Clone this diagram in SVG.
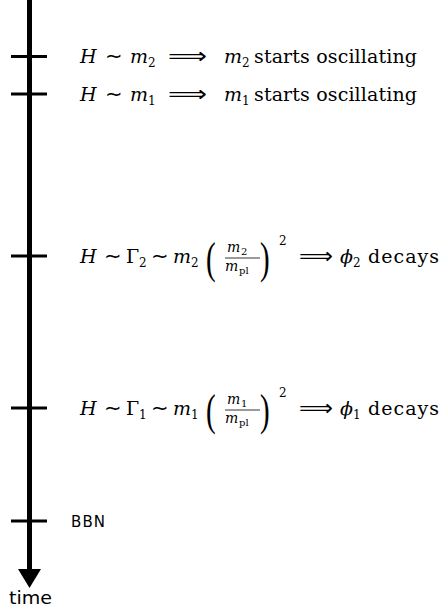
<svg xmlns="http://www.w3.org/2000/svg" width="442" height="612" viewBox="0 0 442 612">
<style>
.m{font-family:"DejaVu Serif","Liberation Serif",serif;font-size:19px;fill:#000}
.i{font-style:italic}
.s{font-size:12px}
.f{font-size:14px}
.sym{font-family:"DejaVu Sans","Liberation Sans",sans-serif;font-size:21px;fill:#000}
.par{font-family:"Liberation Serif",serif;font-size:29px;fill:#000}
.lab{font-family:"DejaVu Sans","Liberation Sans",sans-serif;font-size:15px;fill:#000}
.tick{stroke:#000;stroke-width:3.2}
</style>
<g id="axis">
<line x1="29.5" y1="0" x2="29.5" y2="572" stroke="#000" stroke-width="5"/>
<polygon points="18,569 41,569 29.5,588" fill="#000"/>
<text class="lab" x="9" y="604" textLength="43" lengthAdjust="spacingAndGlyphs" style="font-size:17px">time</text>
</g>
<g id="ticks">
<line class="tick" x1="11" y1="56.5" x2="47" y2="56.5"/>
<line class="tick" x1="11" y1="94" x2="47" y2="94"/>
<line class="tick" x1="11" y1="256" x2="47" y2="256"/>
<line class="tick" x1="11" y1="408" x2="47" y2="408"/>
<line class="tick" x1="11" y1="521" x2="47" y2="521"/>
</g>
<g id="event-m2">
<text class="m i" x="80" y="63">H</text>
<text class="sym" x="105" y="63">∼</text>
<text class="m i" x="130" y="63">m</text>
<text class="m s" x="148" y="67">2</text>
<text class="sym" x="168" y="63" textLength="39" lengthAdjust="spacingAndGlyphs">⟹</text>
<text class="m i" x="224" y="63">m</text>
<text class="m s" x="242" y="67">2</text>
<text class="m" x="254" y="63" textLength="163">starts oscillating</text>
</g>
<g id="event-m1">
<text class="m i" x="80" y="101">H</text>
<text class="sym" x="105" y="101">∼</text>
<text class="m i" x="130" y="101">m</text>
<text class="m s" x="148" y="105">1</text>
<text class="sym" x="168" y="101" textLength="39" lengthAdjust="spacingAndGlyphs">⟹</text>
<text class="m i" x="224" y="101">m</text>
<text class="m s" x="242" y="105">1</text>
<text class="m" x="254" y="101" textLength="163">starts oscillating</text>
</g>
<g id="event-phi2">
<text class="m i" x="80" y="263">H</text>
<text class="sym" x="104" y="263">∼</text>
<text class="m" x="126" y="263">Γ</text>
<text class="m s" x="139" y="267">2</text>
<text class="sym" x="151" y="263">∼</text>
<text class="m i" x="173" y="263">m</text>
<text class="m s" x="191" y="267">2</text>
<text class="par" transform="translate(206,273) scale(1,1.55)">(</text>
<text class="m i f" x="227" y="252">m</text>
<text class="m" x="241" y="255" style="font-size:10px">2</text>
<line x1="225" y1="258" x2="260" y2="258" stroke="#000" stroke-width="0.8"/>
<text class="m i f" x="225" y="271">m</text>
<text class="m" x="239" y="274" style="font-size:10px">pl</text>
<text class="par" transform="translate(260,273) scale(1,1.55)">)</text>
<text class="m s" x="279" y="245">2</text>
<text class="sym" x="299" y="263" textLength="34" lengthAdjust="spacingAndGlyphs">⟹</text>
<text class="m i" x="340" y="263">ϕ</text>
<text class="m s" x="353" y="267">2</text>
<text class="m" x="368" y="263" textLength="71">decays</text>
</g>
<g id="event-phi1">
<text class="m i" x="80" y="415">H</text>
<text class="sym" x="104" y="415">∼</text>
<text class="m" x="126" y="415">Γ</text>
<text class="m s" x="139" y="419">1</text>
<text class="sym" x="151" y="415">∼</text>
<text class="m i" x="173" y="415">m</text>
<text class="m s" x="191" y="419">1</text>
<text class="par" transform="translate(206,425) scale(1,1.55)">(</text>
<text class="m i f" x="227" y="404">m</text>
<text class="m" x="241" y="407" style="font-size:10px">1</text>
<line x1="225" y1="410" x2="260" y2="410" stroke="#000" stroke-width="0.8"/>
<text class="m i f" x="225" y="423">m</text>
<text class="m" x="239" y="426" style="font-size:10px">pl</text>
<text class="par" transform="translate(260,425) scale(1,1.55)">)</text>
<text class="m s" x="279" y="397">2</text>
<text class="sym" x="299" y="415" textLength="34" lengthAdjust="spacingAndGlyphs">⟹</text>
<text class="m i" x="340" y="415">ϕ</text>
<text class="m s" x="353" y="419">1</text>
<text class="m" x="368" y="415" textLength="71">decays</text>
</g>
<g id="event-bbn">
<text class="lab" x="71" y="527" textLength="34">BBN</text>
</g>
</svg>
